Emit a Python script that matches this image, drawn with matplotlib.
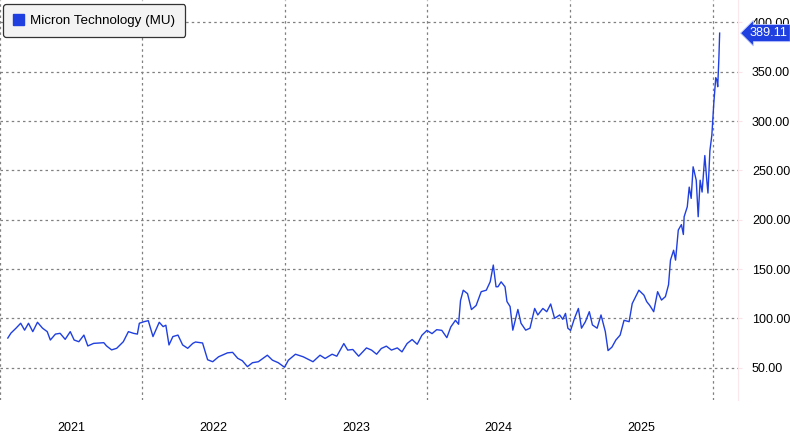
import numpy as np
import pandas as pd
import matplotlib
matplotlib.use("Agg")
import matplotlib.pyplot as plt
import matplotlib.dates as mdates
from matplotlib.patches import Patch


# ==============================
# Data
# ==============================

dates = [
    "2021-01-21", "2021-01-29", "2021-02-11", "2021-02-23", "2021-03-05",
    "2021-03-15", "2021-03-26", "2021-04-07", "2021-04-20", "2021-05-02",
    "2021-05-10", "2021-05-23", "2021-06-04", "2021-06-17", "2021-06-30",
    "2021-07-10", "2021-07-22", "2021-08-04", "2021-08-14", "2021-08-29",
    "2021-09-24", "2021-10-01", "2021-10-14", "2021-10-27", "2021-11-13",
    "2021-11-26", "2021-12-09", "2021-12-19", "2021-12-24",
    "2022-01-06", "2022-01-16", "2022-01-28", "2022-02-13", "2022-02-23",
    "2022-03-02", "2022-03-10", "2022-03-20", "2022-04-02", "2022-04-14",
    "2022-04-27", "2022-05-10", "2022-05-17", "2022-06-04", "2022-06-17",
    "2022-06-30", "2022-07-15", "2022-08-07", "2022-08-20", "2022-09-02",
    "2022-09-14", "2022-09-27", "2022-10-10", "2022-10-25", "2022-11-17",
    "2022-11-30", "2022-12-15", "2022-12-31",
    "2023-01-10", "2023-01-28", "2023-02-17", "2023-03-14", "2023-04-01",
    "2023-04-14", "2023-05-02", "2023-05-14", "2023-06-01", "2023-06-11",
    "2023-06-24", "2023-07-09", "2023-07-29", "2023-08-11", "2023-08-24",
    "2023-09-05", "2023-09-18", "2023-10-01", "2023-10-16", "2023-10-28",
    "2023-11-10", "2023-11-23", "2023-12-06", "2023-12-18", "2023-12-31",
    "2024-01-13", "2024-01-25", "2024-02-07", "2024-02-20", "2024-03-01",
    "2024-03-13", "2024-03-21", "2024-03-26", "2024-04-02", "2024-04-13",
    "2024-04-23", "2024-05-05", "2024-05-18", "2024-05-31", "2024-06-10",
    "2024-06-18", "2024-06-25", "2024-06-30", "2024-07-08", "2024-07-18",
    "2024-07-23", "2024-07-31", "2024-08-07", "2024-08-20", "2024-08-28",
    "2024-09-09", "2024-09-20", "2024-10-02", "2024-10-10", "2024-10-23",
    "2024-11-02", "2024-11-12", "2024-11-22", "2024-12-05", "2024-12-13",
    "2024-12-20", "2024-12-26",
    "2025-01-02", "2025-01-12", "2025-01-22", "2025-01-30", "2025-02-09",
    "2025-02-19", "2025-02-27", "2025-03-11", "2025-03-21", "2025-04-01",
    "2025-04-08", "2025-04-18", "2025-04-28", "2025-05-09", "2025-05-19",
    "2025-06-01", "2025-06-09", "2025-06-26", "2025-07-09", "2025-07-16",
    "2025-07-24", "2025-08-03", "2025-08-13", "2025-08-23", "2025-09-02",
    "2025-09-10", "2025-09-15", "2025-09-23", "2025-09-28", "2025-10-05",
    "2025-10-13", "2025-10-18", "2025-10-20", "2025-10-28", "2025-11-02",
    "2025-11-07", "2025-11-12", "2025-11-20", "2025-11-25", "2025-11-30",
    "2025-12-05", "2025-12-12", "2025-12-17", "2025-12-20", "2025-12-25",
    "2025-12-30",
    "2026-01-04", "2026-01-09", "2026-01-12", "2026-01-14", "2026-01-17",
    "2026-01-19",
]

prices = [
    80.0, 85.0, 90.0, 95.0, 88.0,
    95.0, 86.5, 96.0, 90.0, 86.5,
    78.0, 84.0, 84.8, 78.7, 86.5,
    78.0, 76.3, 83.0, 72.0, 74.6,
    75.3, 72.0, 68.0, 69.6, 76.3,
    86.5, 84.8, 84.0, 95.0,
    96.7, 97.6, 81.5, 96.0, 91.6,
    93.0, 73.0, 81.5, 83.0, 73.0,
    69.6, 74.6, 76.0, 75.0, 58.0,
    56.0, 61.0, 65.0, 65.5, 59.5,
    57.0, 51.0, 55.0, 56.0, 62.6,
    57.6, 55.0, 50.4,
    57.6, 63.6, 61.0, 56.0, 62.6,
    59.3, 63.6, 61.6, 74.4, 67.8,
    68.4, 61.6, 70.0, 67.8, 63.6,
    69.4, 71.8, 67.8, 70.0, 66.0,
    74.4, 78.5, 73.7, 82.8, 87.8,
    84.5, 88.5, 87.8, 80.4, 91.2,
    98.0, 94.0, 118.0, 128.5, 125.0,
    108.9, 113.0, 127.0, 128.5, 137.0,
    154.0, 132.0, 132.0, 137.0, 132.0,
    117.0, 112.0, 88.0, 109.0, 95.0,
    88.0, 90.0, 110.0, 103.4, 110.0,
    106.7, 114.5, 100.0, 103.4, 99.0,
    105.0, 90.0,
    87.7, 100.0, 110.0, 90.0, 96.6,
    106.7, 93.3, 90.0, 103.4, 86.6,
    67.3, 70.8, 78.0, 83.0, 98.0,
    96.6, 115.0, 128.5, 123.5, 117.0,
    113.0, 106.7, 127.0, 118.5, 122.0,
    134.0, 159.0, 169.0, 159.0, 189.5,
    195.0, 185.0, 203.0, 213.0, 233.0,
    221.6, 253.6, 240.0, 203.0, 240.0,
    228.0, 265.0, 240.0, 227.0, 270.0,
    285.7,
    318.0, 344.0, 341.6, 334.8, 363.6,
    389.11,
]

series_name = "Micron Technology (MU)"
years = [2021, 2022, 2023, 2024, 2025]
y_ticks = [50, 100, 150, 200, 250, 300, 350, 400]

line_color = "#1f3fe0"

plt.rcParams["font.family"] = ["Liberation Sans", "DejaVu Sans"]


# ==============================
# Figure
# ==============================

x = mdates.datestr2num(dates)

fig = plt.figure(figsize=(7.9, 4.38), dpi=100)
ax = fig.add_axes([0.0, 1 - 400 / 438, 738 / 790, 400 / 438])

ax.plot(x, prices, color=line_color, linewidth=1.0, zorder=3)

ax.set_xlim(mdates.datestr2num("2021-01-21"), mdates.datestr2num("2026-03-07"))
ax.set_ylim(17.2, 422.7)


# ==============================
# Axes styling
# ==============================

grid_kw = dict(color="#808080", linewidth=0.9, linestyle=(0, (2, 2.5)))

# year boundaries -> vertical grid, year labels centered in each year
ax.set_xticks(mdates.datestr2num([f"{y}-01-01" for y in years + [2026]]))
ax.set_xticklabels([])
ax.set_xticks(mdates.datestr2num([f"{y}-07-02" for y in years]), minor=True)
ax.set_xticklabels([str(y) for y in years], minor=True)
ax.tick_params(axis="x", which="major", length=0)
ax.tick_params(axis="x", which="minor", length=0, pad=16,
               labelsize=9, labelcolor="black")
ax.xaxis.grid(True, which="major", **grid_kw)

ax.yaxis.tick_right()
ax.set_yticks(y_ticks)
ax.set_yticklabels([f"{v:.2f}" for v in y_ticks])
ax.tick_params(axis="y", length=3, color="#fbe3e8", pad=7,
               labelsize=9, labelcolor="black")
ax.yaxis.grid(True, **grid_kw)

for side in ["top", "left", "bottom"]:
    ax.spines[side].set_visible(False)
ax.spines["right"].set_color("#fbe8ec")
ax.spines["right"].set_linewidth(0.8)


# ==============================
# Legend + last value tag
# ==============================

handle = Patch(facecolor=line_color, edgecolor=line_color)
leg = ax.legend(
    [handle], [series_name],
    loc="upper left",
    bbox_to_anchor=(0.004, 0.99),
    borderaxespad=0,
    fontsize=9.6,
    handlelength=0.85,
    handleheight=0.85,
    handletextpad=0.45,
    borderpad=0.75,
    fancybox=True,
    framealpha=1,
    facecolor="#f3f3f3",
    edgecolor="#333333",
)
leg.get_frame().set_linewidth(0.9)
leg.set_zorder(5)

ax.annotate(
    f"{prices[-1]:.2f}",
    xy=(1.0, prices[-1]),
    xycoords=("axes fraction", "data"),
    xytext=(8.5, 0),
    textcoords="offset points",
    ha="left", va="center",
    fontsize=9.2, color="white",
    bbox=dict(boxstyle="larrow,pad=0.2", facecolor=line_color,
              edgecolor="#c8d0ff", linewidth=0.6),
    annotation_clip=False,
    zorder=6,
)

fig.savefig("out.png", dpi=100)
plt.close(fig)
